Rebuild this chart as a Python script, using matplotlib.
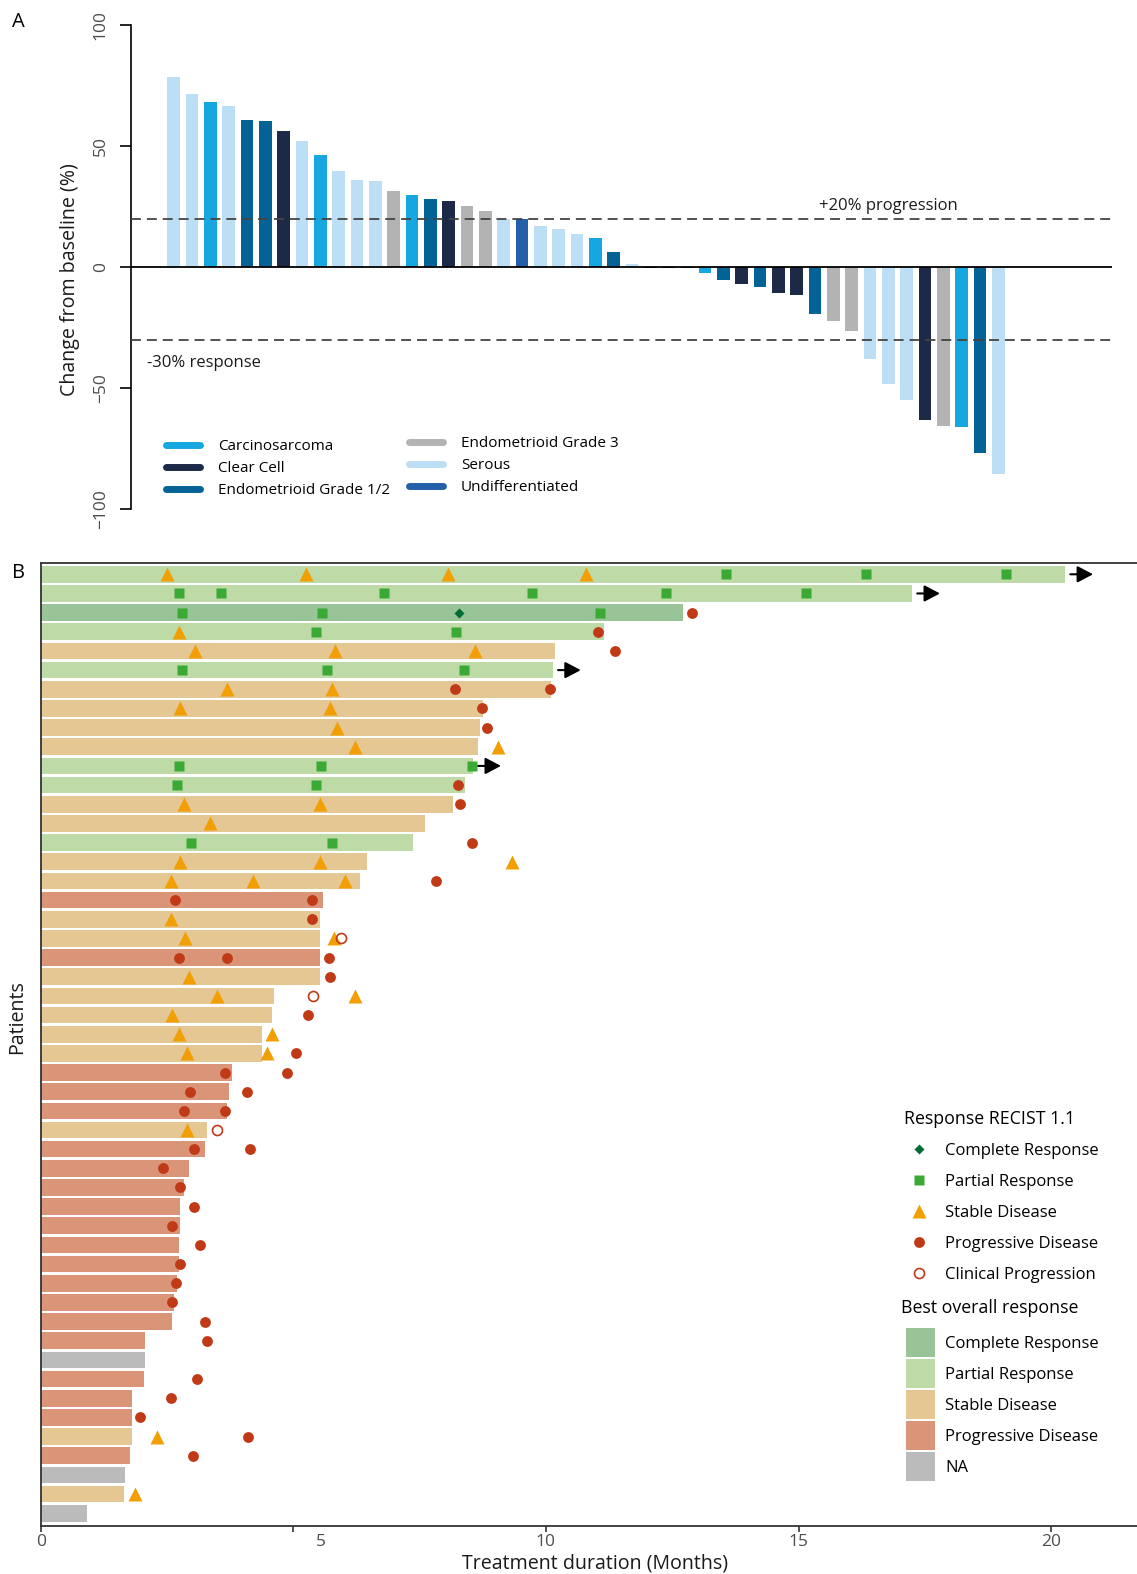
import matplotlib
matplotlib.use("Agg")
import matplotlib.pyplot as plt
import matplotlib.transforms as mtransforms
from matplotlib.lines import Line2D
from matplotlib.patches import Patch

plt.rcParams['font.family'] = ['Open Sans', 'DejaVu Sans']

# ---------------- Panel A data: waterfall ----------------
histology = ['Serous', 'Serous', 'Carcinosarcoma', 'Serous', 'Endometrioid Grade 1/2',
             'Endometrioid Grade 1/2', 'Clear Cell', 'Serous', 'Carcinosarcoma', 'Serous',
             'Serous', 'Serous', 'Endometrioid Grade 3', 'Carcinosarcoma', 'Endometrioid Grade 1/2',
             'Clear Cell', 'Endometrioid Grade 3', 'Endometrioid Grade 3', 'Serous', 'Undifferentiated',
             'Serous', 'Serous', 'Serous', 'Carcinosarcoma', 'Endometrioid Grade 1/2',
             'Serous', 'Clear Cell', 'Clear Cell', 'Clear Cell', 'Carcinosarcoma',
             'Endometrioid Grade 1/2', 'Clear Cell', 'Endometrioid Grade 1/2', 'Clear Cell', 'Clear Cell',
             'Endometrioid Grade 1/2', 'Endometrioid Grade 3', 'Endometrioid Grade 3', 'Serous', 'Serous',
             'Serous', 'Clear Cell', 'Endometrioid Grade 3', 'Carcinosarcoma', 'Endometrioid Grade 1/2',
             'Serous']
change_pct = [78.5, 71.4, 68.1, 66.5, 60.7, 60.3, 56.1, 52.0, 46.2, 39.6,
              35.9, 35.4, 31.3, 29.7, 28.0, 27.2, 25.1, 23.0, 19.7, 19.7,
              16.8, 15.6, 13.5, 11.9, 6.1, 1.1, -0.5, -0.5, -0.5, -2.5,
              -5.4, -7.1, -8.3, -10.8, -11.7, -19.6, -22.5, -26.3, -37.9, -48.3,
              -55.0, -63.3, -65.8, -66.3, -76.7, -85.4]

hist_colors = {
    'Carcinosarcoma': '#17A7E0',
    'Clear Cell': '#1C2A47',
    'Endometrioid Grade 1/2': '#046396',
    'Endometrioid Grade 3': '#B3B3B3',
    'Serous': '#BDDFF5',
    'Undifferentiated': '#2260A9',
}

# ---------------- Panel B data: swimmer ----------------
best_response = ['PR', 'PR', 'CR', 'PR', 'SD', 'PR', 'SD', 'SD', 'SD', 'SD',
                 'PR', 'PR', 'SD', 'SD', 'PR', 'SD', 'SD', 'PD', 'SD', 'SD',
                 'PD', 'SD', 'SD', 'SD', 'SD', 'SD', 'PD', 'PD', 'PD', 'SD',
                 'PD', 'PD', 'PD', 'PD', 'PD', 'PD', 'PD', 'PD', 'PD', 'PD',
                 'PD', 'NA', 'PD', 'PD', 'PD', 'SD', 'PD', 'NA', 'SD', 'NA']
duration = [20.28, 17.25, 12.71, 11.14, 10.18, 10.14, 10.11, 8.76, 8.70, 8.66,
            8.56, 8.40, 8.17, 7.61, 7.37, 6.46, 6.32, 5.58, 5.53, 5.53,
            5.53, 5.53, 4.62, 4.58, 4.38, 4.38, 3.79, 3.73, 3.69, 3.29,
            3.25, 2.94, 2.84, 2.76, 2.76, 2.74, 2.74, 2.70, 2.64, 2.60,
            2.07, 2.07, 2.05, 1.81, 1.81, 1.81, 1.77, 1.67, 1.65, 0.92]
ongoing_rows = [1, 2, 6, 11]

cr_rows = [3]
cr_months = [8.27]

pr_rows = [1, 1, 1, 2, 2, 2, 2, 2, 2, 3, 3, 3, 4, 4, 6, 6, 6, 11, 11, 11, 12, 12, 15, 15]
pr_months = [13.56, 16.33, 19.10, 2.73, 3.57, 6.80, 9.72, 12.37, 15.14, 2.79, 5.56, 11.07,
             5.45, 8.23, 2.79, 5.66, 8.37, 2.73, 5.54, 8.53, 2.69, 5.45, 2.98, 5.76]

sd_rows = [1, 1, 1, 1, 4, 5, 5, 5, 7, 7, 8, 8, 9, 10, 10, 13, 13, 14, 16, 16, 16,
           17, 17, 17, 19, 20, 20, 22, 23, 23, 24, 25, 25, 26, 26, 30, 46, 49]
sd_months = [2.50, 5.26, 8.06, 10.80, 2.73, 3.06, 5.83, 8.59, 3.69, 5.76, 2.76, 5.73, 5.86,
             6.23, 9.05, 2.83, 5.53, 3.35, 2.76, 5.53, 9.32, 2.57, 4.21, 6.02, 2.57, 2.86,
             5.81, 2.93, 3.49, 6.22, 2.60, 2.73, 4.57, 2.90, 4.47, 2.90, 2.30, 1.87]

pd_rows = [3, 4, 5, 7, 7, 8, 9, 12, 13, 15, 17, 18, 18, 19, 21, 21, 21, 22, 24, 26,
           27, 27, 28, 28, 29, 29, 31, 31, 32, 33, 34, 35, 36, 37, 38, 39, 40, 41,
           43, 44, 45, 46, 47]
pd_months = [12.90, 11.03, 11.36, 8.20, 10.08, 8.73, 8.83, 8.26, 8.30, 8.53, 7.83, 2.66,
             5.37, 5.37, 2.73, 3.68, 5.70, 5.73, 5.30, 5.06, 3.65, 4.87, 2.96, 4.08,
             2.83, 3.65, 3.03, 4.15, 2.43, 2.76, 3.03, 2.59, 3.15, 2.76, 2.67, 2.59,
             3.26, 3.29, 3.10, 2.57, 1.97, 4.11, 3.02]

cp_rows = [20, 23, 30]
cp_months = [5.95, 5.39, 3.49]

bar_colors = {'CR': '#98C497', 'PR': '#BEDAA7', 'SD': '#E4C793', 'PD': '#DA9477', 'NA': '#BBBBBB'}
bar_names = {'CR': 'Complete Response', 'PR': 'Partial Response', 'SD': 'Stable Disease',
             'PD': 'Progressive Disease', 'NA': 'NA'}

W, H = 1137, 1574
fig = plt.figure(figsize=(W / 100, H / 100), dpi=100)

tick_grey = '#4D4D4D'
label_size = 14.1

# ================= Panel A =================
axA = fig.add_axes([131 / W, 1 - 509 / H, (1112 - 131) / W, (509 - 25) / H])
xpos = list(range(1, len(change_pct) + 1))
axA.bar(xpos, change_pct, width=0.69, color=[hist_colors[h] for h in histology], zorder=2)
axA.axhline(0, color='black', lw=1.3, zorder=3)
for yv in (20, -30):
    axA.axhline(yv, color='#444444', lw=1.3, linestyle=(0, (5.5, 3.3)), zorder=3)
axA.set_xlim(-1.33, 52.2)
axA.set_ylim(-100, 100)
for s in ('top', 'right', 'bottom'):
    axA.spines[s].set_visible(False)
axA.spines['left'].set_linewidth(1.2)
axA.set_xticks([])
axA.set_yticks([-100, -50, 0, 50, 100])
axA.tick_params(axis='y', length=8, width=1.2, pad=8, labelsize=12.5,
                labelcolor=tick_grey, labelrotation=90)
for lbl in axA.get_yticklabels():
    lbl.set_va('center')

axA.text(36.2, 25.2, '+20% progression', fontsize=12, ha='left', va='center', color='#1a1a1a')
axA.text(-0.45, -39.8, '-30% response', fontsize=12, ha='left', va='center', color='#1a1a1a')

hist_order1 = ['Carcinosarcoma', 'Clear Cell', 'Endometrioid Grade 1/2']
hist_order2 = ['Endometrioid Grade 3', 'Serous', 'Undifferentiated']
legA_kw = dict(frameon=False, fontsize=11, handlelength=2.2, handletextpad=1.2,
               labelspacing=0.47, borderpad=0, borderaxespad=0, loc='upper left',
               bbox_transform=fig.transFigure)
hA1 = [Line2D([], [], color=hist_colors[h], lw=5, solid_capstyle='round') for h in hist_order1]
hA2 = [Line2D([], [], color=hist_colors[h], lw=5, solid_capstyle='round') for h in hist_order2]
legA1 = axA.legend(hA1, hist_order1, bbox_to_anchor=(166 / W, 1 - 439 / H), **legA_kw)
axA.add_artist(legA1)
axA.legend(hA2, hist_order2, bbox_to_anchor=(409 / W, 1 - 436 / H), **legA_kw)

fig.text(70 / W, 1 - 280 / H, 'Change from baseline (%)', rotation=90,
         ha='center', va='center', fontsize=label_size, color='#1a1a1a')
fig.text(18 / W, 1 - 22 / H, 'A', fontsize=14.5, ha='center', va='center')

# ================= Panel B =================
axB = fig.add_axes([40.7 / W, 1 - 1525.7 / H, (W - 40.7) / W, (1525.7 - 562.7) / H])
rows = list(range(1, len(duration) + 1))
axB.barh(rows, duration, height=0.87, color=[bar_colors[b] for b in best_response], zorder=1)

axB.plot(sd_months, sd_rows, ls='none', marker='^', ms=9.5, color='#F29F05', mec='none', zorder=3)
axB.plot(pr_months, pr_rows, ls='none', marker='s', ms=7.6, color='#3AAA35', mec='none', zorder=3)
axB.plot(cr_months, cr_rows, ls='none', marker='D', ms=5.5, color='#006B35', mec='none', zorder=3)
axB.plot(pd_months, pd_rows, ls='none', marker='o', ms=7.8, color='#C03A17', mec='none', zorder=3)
axB.plot(cp_months, cp_rows, ls='none', marker='o', ms=7.2, mfc='none', mec='#C03A17',
         mew=1.2, zorder=4)

for r in ongoing_rows:
    end = duration[r - 1]
    axB.annotate('', xy=(end + 0.55, r), xytext=(end + 0.1, r),
                 arrowprops=dict(arrowstyle='-|>,head_length=0.95,head_width=0.5',
                                 color='black', lw=1.5, shrinkA=0, shrinkB=0))

axB.set_xlim(0, 21.70)
axB.set_ylim(50.65, 0.395)
axB.set_yticks([])
axB.set_xticks([0, 5, 10, 15, 20])
axB.tick_params(axis='x', length=4, width=1.2, pad=2, labelsize=12.5, labelcolor=tick_grey,
                color='#333333')
for s in ('left', 'top', 'bottom'):
    axB.spines[s].set_color('#333333')
    axB.spines[s].set_linewidth(1.3)
axB.spines['right'].set_visible(False)

# the "5" label sits right of its tick in the original
shift = mtransforms.ScaledTranslation(28 / 100, 0, fig.dpi_scale_trans)
for lbl in axB.get_xticklabels():
    if lbl.get_text() == '5':
        lbl.set_transform(lbl.get_transform() + shift)

marker_handles = [
    Line2D([], [], ls='none', marker='D', ms=5.5, color='#006B35', mec='none'),
    Line2D([], [], ls='none', marker='s', ms=7.6, color='#3AAA35', mec='none'),
    Line2D([], [], ls='none', marker='^', ms=9.5, color='#F29F05', mec='none'),
    Line2D([], [], ls='none', marker='o', ms=7.8, color='#C03A17', mec='none'),
    Line2D([], [], ls='none', marker='o', ms=7.2, mfc='none', mec='#C03A17', mew=1.2),
]
marker_labels = ['Complete Response', 'Partial Response', 'Stable Disease',
                 'Progressive Disease', 'Clinical Progression']
legB1 = axB.legend(marker_handles, marker_labels, title='Response RECIST 1.1',
                   loc='upper left', bbox_to_anchor=(904 / W, 1 - 1110 / H),
                   bbox_transform=fig.transFigure, frameon=False, fontsize=12,
                   title_fontsize=12.8, alignment='left', handlelength=1.8,
                   handletextpad=0.66, labelspacing=0.9, borderpad=0, borderaxespad=0)
axB.add_artist(legB1)

order = ['CR', 'PR', 'SD', 'PD', 'NA']
patch_handles = [Patch(facecolor=bar_colors[k], edgecolor='none') for k in order]
axB.legend(patch_handles, [bar_names[k] for k in order],
           loc='upper left', bbox_to_anchor=(906 / W, 1 - 1328 / H),
           bbox_transform=fig.transFigure, frameon=False, fontsize=12,
           handlelength=1.74, handleheight=2.3,
           handletextpad=0.6, labelspacing=0.12, borderpad=0, borderaxespad=0)
fig.text(901 / W, 1 - 1308 / H, 'Best overall response', ha='left', va='center',
         fontsize=12.8, color='black')

fig.text(17 / W, 1 - 1017 / H, 'Patients', rotation=90, ha='center', va='center',
         fontsize=label_size, color='#1a1a1a')
fig.text(595 / W, 1 - 1564 / H, 'Treatment duration (Months)', ha='center', va='center',
         fontsize=label_size, color='#1a1a1a')
fig.text(18 / W, 1 - 573 / H, 'B', fontsize=14.5, ha='center', va='center')

fig.savefig('out.png', dpi=100)
